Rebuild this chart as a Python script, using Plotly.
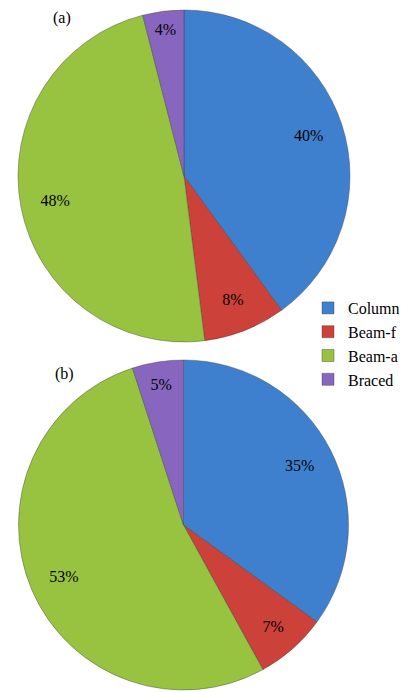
import plotly.graph_objects as go

labels = ["Column", "Beam-f", "Beam-a", "Braced"]
values_a = [40, 8, 48, 4]
values_b = [35, 7, 53, 5]
colors = ["#3f80ce", "#cc4139", "#97c341", "#8866bf"]
panel_titles = ["(a)", "(b)"]

W, H = 411, 692
SERIF = "Liberation Serif, Times New Roman, serif"

def dom(x0, x1, ytop, ybot):
    return dict(x=[x0 / W, x1 / W], y=[1 - ybot / H, 1 - ytop / H])

fig = go.Figure()
domains = [dom(16, 352, 10, 342), dom(15, 352, 360, 690)]
for vals, d in zip([values_a, values_b], domains):
    # filled slices
    fig.add_trace(go.Pie(
        labels=labels, values=vals, domain=d, sort=False, direction="clockwise", rotation=0,
        marker=dict(colors=colors, line=dict(color="rgba(60,60,60,0.4)", width=1)),
        textinfo="none", hoverinfo="label+percent", showlegend=True,
    ))
    # transparent ring carrying the percentage labels near the rim
    fig.add_trace(go.Pie(
        labels=labels, values=vals, domain=d, sort=False, direction="clockwise", rotation=0,
        hole=0.58,
        marker=dict(colors=["rgba(0,0,0,0)"] * len(labels), line=dict(width=0)),
        texttemplate="%{value}%", textposition="inside", insidetextorientation="horizontal",
        textfont=dict(family=SERIF, size=16, color="black"),
        hoverinfo="skip", showlegend=False,
    ))

fig.add_annotation(text=panel_titles[0], x=62 / W, y=1 - 18 / H, xref="paper", yref="paper",
                   xanchor="center", yanchor="middle", showarrow=False,
                   font=dict(family=SERIF, size=16, color="black"))
fig.add_annotation(text=panel_titles[1], x=64 / W, y=1 - 374 / H, xref="paper", yref="paper",
                   xanchor="center", yanchor="middle", showarrow=False,
                   font=dict(family=SERIF, size=16, color="black"))

fig.update_layout(
    width=W, height=H,
    margin=dict(l=0, r=0, t=0, b=0),
    paper_bgcolor="white",
    legend=dict(x=308 / W, y=1 - 291 / H, xanchor="left", yanchor="top",
                font=dict(family=SERIF, size=16, color="black"),
                bgcolor="rgba(0,0,0,0)", tracegroupgap=0),
)
fig.write_html("out.html")
